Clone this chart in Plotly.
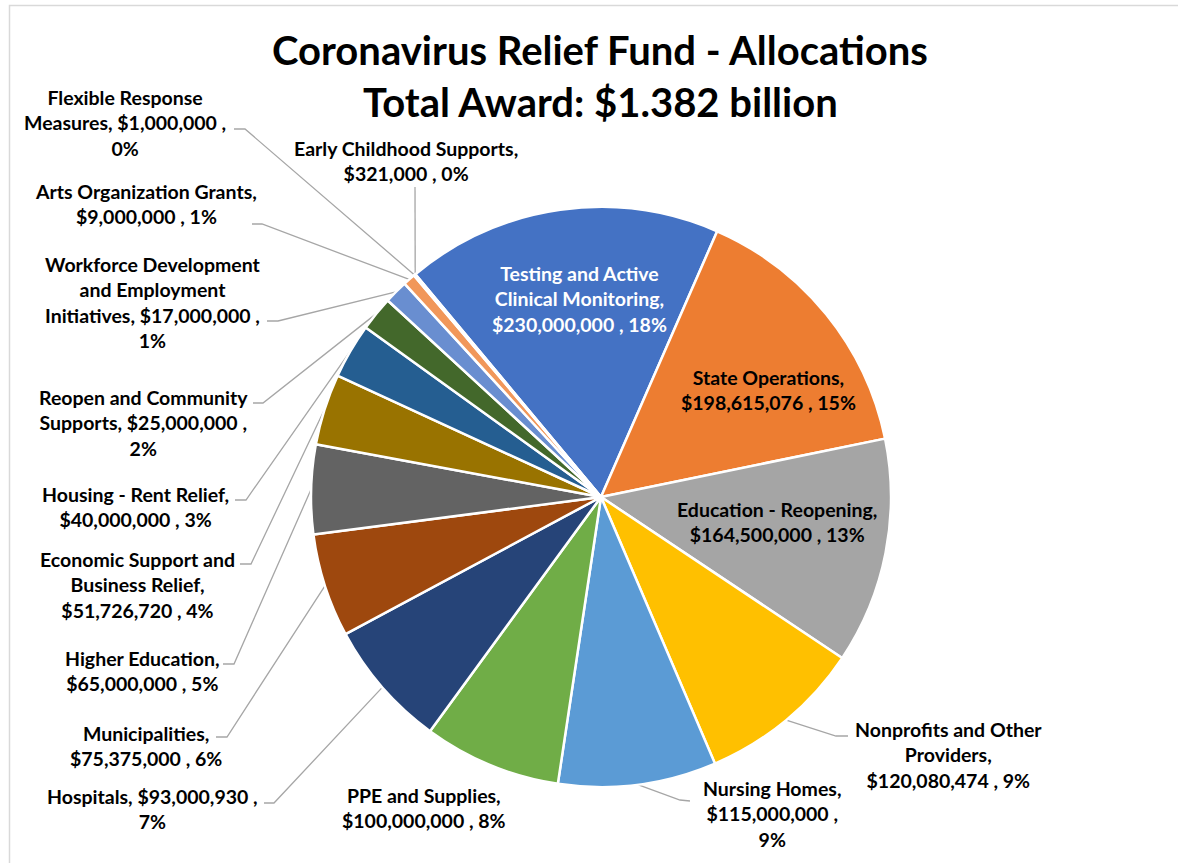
import math
import plotly.graph_objects as go

# ---------------- data ----------------
categories = [
    "Testing and Active Clinical Monitoring", "State Operations", "Education - Reopening",
    "Nonprofits and Other Providers", "Nursing Homes", "PPE and Supplies", "Hospitals",
    "Municipalities", "Higher Education", "Economic Support and Business Relief",
    "Housing - Rent Relief", "Reopen and Community Supports",
    "Workforce Development and Employment Initiatives", "Arts Organization Grants",
    "Flexible Response Measures", "Early Childhood Supports",
]
values = [230000000, 198615076, 164500000, 120080474, 115000000, 100000000, 93000930,
          75375000, 65000000, 51726720, 40000000, 25000000, 17000000, 9000000,
          1000000, 321000]
title_lines = ["Coronavirus Relief Fund - Allocations", "Total Award: $1.382 billion"]

# ---------------- style / layout ----------------
colors = ["#4472C4", "#ED7D31", "#A5A5A5", "#FFC000", "#5B9BD5", "#70AD47", "#264478",
          "#9E480E", "#636363", "#997300", "#255E91", "#43682B", "#698ED0", "#F1975A",
          "#B7B7B7", "#FFCD33"]
W, H = 1178, 863
CX, CY, R = 601, 497, 290
ROTATION = -39.8
FONT = "Lato"
# words per line for each label
label_breaks = [[3, 2, 3], [2, 3], [3, 3], [3, 1, 3], [2, 2, 1], [3, 3], [3, 1], [1, 3],
                [2, 3], [3, 2, 3], [4, 3], [3, 3, 1], [2, 2, 3, 1], [3, 3], [2, 3, 1], [3, 3]]
# label block centres (px)
label_pos = [(579, 299), (768, 390), (777, 522), (948, 755), (772, 814), (424, 808),
             (152, 809), (146, 746), (142, 671), (137, 585), (135, 507), (143, 423),
             (153, 302), (146, 204), (125, 123), (406, 161)]
label_color = ["white"] + ["black"] * 15
# leader lines: (anchor near label, elbow) or None
leaders = [None, None, None, ((848, 736), (836, 736)), ((690, 801), (680, 800)), None,
           ((264, 803), (274, 803)), ((216, 737), (227, 737)), ((223, 664), (234, 664)),
           ((240, 564), (251, 564)), ((235, 500), (246, 500)), ((253, 403), (263, 403)),
           ((267, 321), (278, 321)), ((252, 224), (262, 224)), ((234, 129), (245, 129)),
           ((415, 187), None)]

total = sum(values)

def money(v):
    return "${:,.0f}".format(v)

fig = go.Figure()
fig.add_trace(go.Pie(
    labels=categories, values=values, sort=False, direction="clockwise",
    rotation=ROTATION, textinfo="none", hoverinfo="label+value+percent",
    marker=dict(colors=colors, line=dict(color="white", width=2.5)),
    domain=dict(x=[(CX - R) / W, (CX + R) / W], y=[(H - CY - R) / H, (H - CY + R) / H]),
    showlegend=False,
))

# leader lines computed from slice mid angles
lx, ly = [], []
cum = 0.0
for i, v in enumerate(values):
    mid = math.radians(ROTATION + (cum + v / 2) / total * 360)
    cum += v
    if leaders[i] is None:
        continue
    rx, ry = CX + R * math.sin(mid), CY - R * math.cos(mid)
    anchor, elbow = leaders[i]
    pts = [anchor] + ([elbow] if elbow else []) + [(rx, ry)]
    for p in pts:
        lx.append(p[0]); ly.append(p[1])
    lx.append(None); ly.append(None)
fig.add_trace(go.Scatter(x=lx, y=ly, mode="lines", line=dict(color="#A6A6A6", width=1.3),
                         hoverinfo="skip", showlegend=False))

annotations = []
for i, (c, v) in enumerate(zip(categories, values)):
    pct = round(v / total * 100)
    words = f"{c}, {money(v)} , {pct}%".split(" ")
    lines, k = [], 0
    for n in label_breaks[i]:
        lines.append(" ".join(words[k:k + n])); k += n
    x, y = label_pos[i]
    annotations.append(dict(x=x, y=y, xref="x", yref="y", text="<br>".join(lines),
                            showarrow=False, xanchor="center", yanchor="middle",
                            font=dict(family=FONT, size=19.5, color=label_color[i], weight="bold")))
for t, y in zip(title_lines, [50, 102]):
    annotations.append(dict(x=600, y=y, xref="x", yref="y", text=t, showarrow=False,
                            xanchor="center", yanchor="middle",
                            font=dict(family=FONT, size=40, color="black", weight="bold")))

fig.update_layout(
    width=W, height=H, margin=dict(l=0, r=0, t=0, b=0),
    paper_bgcolor="white", plot_bgcolor="rgba(0,0,0,0)",
    xaxis=dict(range=[0, W], visible=False, fixedrange=True),
    yaxis=dict(range=[H, 0], visible=False, fixedrange=True),
    annotations=annotations,
    shapes=[dict(type="rect", xref="x", yref="y", x0=9.5, y0=5.5, x1=W + 20, y1=H + 20,
                 line=dict(color="#D9D9D9", width=1.5), fillcolor="rgba(0,0,0,0)", layer="below")],
)
fig.write_html("out.html", config={"displayModeBar": False},
               post_script="document.body.style.margin='0';")
